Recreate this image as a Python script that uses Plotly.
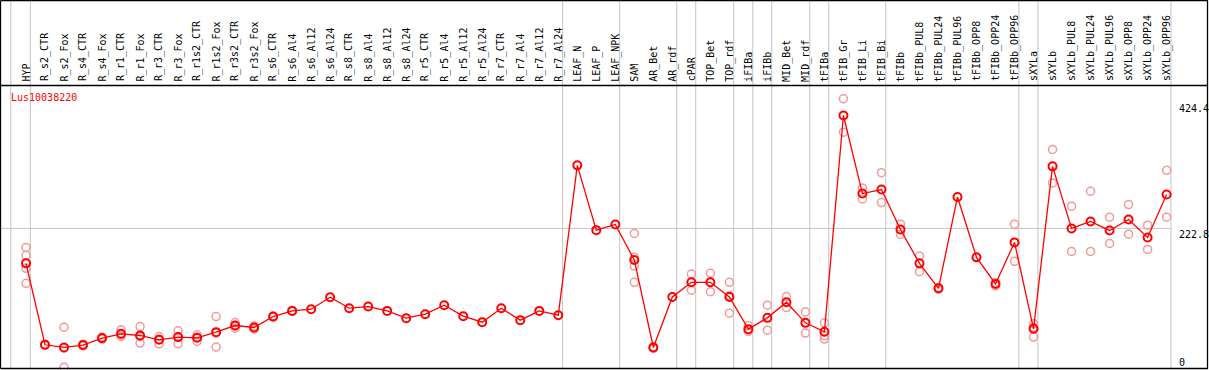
import plotly.graph_objects as go

categories = ["HYP", "R_s2_CTR", "R_s2_Fox", "R_s4_CTR", "R_s4_Fox", "R_r1_CTR", "R_r1_Fox",
              "R_r3_CTR", "R_r3_Fox", "R_r1s2_CTR", "R_r1s2_Fox", "R_r3s2_CTR", "R_r3s2_Fox",
              "R_s6_CTR", "R_s6_Al4", "R_s6_Al12", "R_s6_Al24", "R_s8_CTR", "R_s8_Al4", "R_s8_Al12",
              "R_s8_Al24", "R_r5_CTR", "R_r5_Al4", "R_r5_Al12", "R_r5_Al24", "R_r7_CTR", "R_r7_Al4",
              "R_r7_Al12", "R_r7_Al24", "LEAF_N", "LEAF_P", "LEAF_NPK", "SAM", "AR_Bet", "AR_rdf",
              "cPAR", "TOP_Bet", "TOP_rdf", "iFIBa", "iFIBb", "MID_Bet", "MID_rdf", "tFIBa",
              "tFIB_Gr", "tFIB_Li", "tFIB_Bi", "tFIBb", "tFIBb_PUL8", "tFIBb_PUL24", "tFIBb_PUL96",
              "tFIBb_OPP8", "tFIBb_OPP24", "tFIBb_OPP96", "sXYLa", "sXYLb", "sXYLb_PUL8",
              "sXYLb_PUL24", "sXYLb_PUL96", "sXYLb_OPP8", "sXYLb_OPP24", "sXYLb_OPP96"]

mean_values = [166.7, 36.0, 31.7, 35.5, 46.7, 53.6, 50.9, 44.0, 48.3, 47.2, 56.3, 66.9, 63.7,
               81.3, 90.4, 93.1, 112.3, 94.7, 97.3, 90.4, 78.7, 85.1, 99.5, 81.9, 72.3, 94.7,
               75.5, 90.4, 83.5, 324.0, 220.0, 229.1, 172.0, 31.7, 112.8, 136.3, 136.3, 112.8,
               61.1, 79.2, 104.3, 71.2, 56.8, 404.0, 278.7, 285.1, 221.1, 166.7, 126.7, 273.3,
               176.3, 133.6, 200.3, 61.6, 322.4, 222.7, 233.9, 219.5, 237.1, 208.3, 277.1]

replicates = [
    [192.3, 179.5, 158.7, 134.7], [37.0, 35.0], [64.3, 31.0, 0.0], [37.0, 34.0], [48.0, 45.0],
    [60.0, 49.3, 51.5], [65.3, 38.7, 49.0], [49.3, 37.6, 45.0], [58.4, 37.6, 49.0],
    [52.0, 41.3, 48.0], [81.3, 32.3, 55.0], [71.7, 62.7, 66.0], [66.0, 61.0], [82.0, 80.0],
    [91.0, 90.0], [], [], [], [], [], [], [], [], [], [], [], [], [], [],
    [], [], [], [214.7, 176.3, 162.4, 136.3], [33.0, 30.0], [], [149.6, 123.5], [150.7, 121.3],
    [136.3, 86.7, 115.0], [66.4, 57.3, 60.0], [99.5, 59.5], [113.3, 95.7], [88.8, 54.7],
    [71.2, 50.4, 45.1], [430.7, 377.3], [287.7, 270.1], [312.3, 264.3], [229.6, 213.1],
    [178.4, 153.3], [128.0, 125.0], [], [], [130.5, 136.0], [229.6, 169.9], [69.6, 48.3, 64.0],
    [349.6, 295.7], [258.4, 185.9], [282.4, 185.9], [240.8, 198.7], [261.1, 213.6],
    [228.0, 189.1], [316.0, 240.8]]

group_ends = [-1, 0, 28, 31, 34, 35, 37, 38, 39, 41, 42, 45, 52, 53, 60]
gene_name = "Lus10038220"
scale_labels = ["424.4", "222.8", "0"]
scale_values = [424.4, 222.8, 0.0]
grid_value = 222.8

# ---- geometry (pixels) ----
W, H = 1209, 370
X0_PX, DX_PX = 26.0, 19.01
Y0_PX, PX_PER_UNIT = 367.2, 0.623
HEADER_PX = 85.5
RIGHT_DATA_PX = 1170.5

x_range = [-X0_PX / DX_PX, (W - X0_PX) / DX_PX]
y_range = [(Y0_PX - H) / PX_PER_UNIT, Y0_PX / PX_PER_UNIT]

def px(x):
    return x / W

def py(y):
    return 1 - y / H

rep_x, rep_y = [], []
for i, reps in enumerate(replicates):
    for v in reps:
        rep_x.append(i)
        rep_y.append(v)

fig = go.Figure()
fig.add_trace(go.Scatter(
    x=rep_x, y=rep_y, mode="markers",
    marker=dict(symbol="circle-open", size=8, color="#f09a9a", line=dict(width=1.5, color="#f09a9a")),
    hoverinfo="skip", showlegend=False))
fig.add_trace(go.Scatter(
    x=list(range(len(categories))), y=mean_values, mode="lines+markers",
    line=dict(color="#ff0000", width=1.3),
    marker=dict(symbol="circle-open", size=8, color="#ff0000", line=dict(width=2, color="#ff0000")),
    showlegend=False))

shapes = []
GRAY = "#c4c4c4"
for g in group_ends:
    xv = g + 0.23 if g >= 0 else -0.8
    shapes.append(dict(type="line", xref="x", yref="paper", x0=xv, x1=xv, y0=py(368.5), y1=1,
                       line=dict(color=GRAY, width=1), layer="below"))
shapes.append(dict(type="line", xref="paper", yref="y", x0=0, x1=px(RIGHT_DATA_PX),
                   y0=grid_value, y1=grid_value, line=dict(color=GRAY, width=1), layer="below"))
# frame
for (x0, y0, x1, y1) in [(0.5, 0.5, W - 1, 0.5), (0.5, HEADER_PX, W - 1, HEADER_PX),
                         (0.5, 368.5, W - 1, 368.5), (0.5, 0.5, 0.5, 368.5),
                         (W - 1.5, 0.5, W - 1.5, 368.5)]:
    shapes.append(dict(type="line", xref="paper", yref="paper", x0=px(x0), x1=px(x1),
                       y0=py(y0), y1=py(y1), line=dict(color="black", width=1.3)))

annotations = []
FONT = "DejaVu Sans Mono"
for i, c in enumerate(categories):
    annotations.append(dict(x=i, xref="x", y=py(83.5), yref="paper", text=c, showarrow=False,
                            textangle=-90, xanchor="center", yanchor="bottom",
                            font=dict(family=FONT, size=10, color="black")))
annotations.append(dict(x=px(9), xref="paper", y=py(97), yref="paper", text=gene_name,
                        showarrow=False, xanchor="left", yanchor="middle",
                        font=dict(family=FONT, size=10, color="#ff0000")))
for lab, val in zip(scale_labels, scale_values):
    if val == 0:
        yy, ya = py(370), "bottom"
    else:
        yy, ya = py(Y0_PX - val * PX_PER_UNIT - 1.5), "top"
    annotations.append(dict(x=px(1177), xref="paper", y=yy, yref="paper", text=lab,
                            showarrow=False, xanchor="left", yanchor=ya,
                            font=dict(family=FONT, size=10, color="black")))

fig.update_layout(
    width=W, height=H, autosize=False,
    margin=dict(l=0, r=0, t=0, b=0, pad=0),
    paper_bgcolor="white", plot_bgcolor="white",
    xaxis=dict(range=x_range, visible=False, fixedrange=True),
    yaxis=dict(range=y_range, visible=False, fixedrange=True),
    shapes=shapes, annotations=annotations,
)

fig.write_html("out.html", config={"displayModeBar": False},
               post_script="document.body.style.margin='0';")
